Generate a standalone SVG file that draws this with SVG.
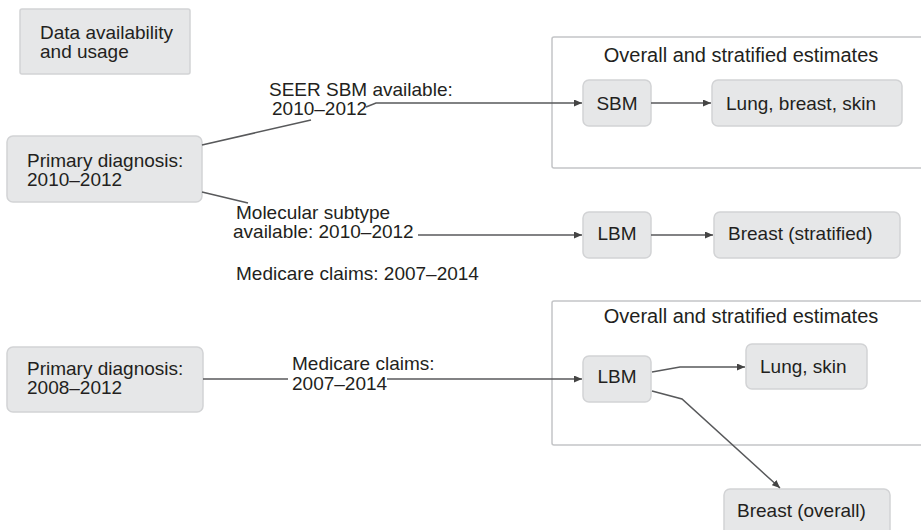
<svg xmlns="http://www.w3.org/2000/svg" width="921" height="530" viewBox="0 0 921 530">
<defs>
<style>
.t{font-family:"Liberation Sans",Arial,sans-serif;font-size:19px;fill:#231f20}
.tt{font-family:"Liberation Sans",Arial,sans-serif;font-size:20px;fill:#231f20}
.n{fill:#e6e7e8;stroke:#d2d3d5;stroke-width:1.5}
.c{fill:none;stroke:#c4c5c7;stroke-width:1.5}
.e{fill:none;stroke:#58595b;stroke-width:1.5}
</style>
<marker id="ah" viewBox="0 0 8 7" refX="8" refY="3.5" markerWidth="8" markerHeight="7" markerUnits="userSpaceOnUse" orient="auto">
<path d="M0,0 L8,3.5 L0,7 z" fill="#444"/>
</marker>
</defs>
<rect width="921" height="530" fill="#ffffff"/>

<g id="containers">
<rect id="cont1" class="c" x="552" y="37" width="380" height="131" rx="2"/>
<text class="tt" x="741" y="62" text-anchor="middle">Overall and stratified estimates</text>
<rect id="cont2" class="c" x="552" y="301" width="380" height="144" rx="2"/>
<text class="tt" x="741" y="323" text-anchor="middle">Overall and stratified estimates</text>
</g>

<g id="legend">
<rect class="n" x="20" y="9" width="170" height="65" rx="2"/>
<text class="t" x="40" y="39">Data availability</text>
<text class="t" x="40" y="58">and usage</text>
</g>

<g id="pd1">
<rect class="n" x="7" y="136" width="195" height="66" rx="6"/>
<text class="t" x="27" y="167">Primary diagnosis:</text>
<text class="t" x="27" y="186">2010–2012</text>
</g>

<g id="pd2">
<rect class="n" x="7" y="347" width="196" height="65" rx="6"/>
<text class="t" x="27" y="375">Primary diagnosis:</text>
<text class="t" x="27" y="394">2008–2012</text>
</g>

<g id="sbm">
<rect class="n" x="583" y="80" width="68" height="46" rx="6"/>
<text class="t" x="617" y="110" text-anchor="middle">SBM</text>
</g>
<g id="lbs">
<rect class="n" x="712" y="80" width="190" height="46" rx="6"/>
<text class="t" x="726" y="110">Lung, breast, skin</text>
</g>
<g id="lbm1">
<rect class="n" x="583" y="212" width="68" height="46" rx="6"/>
<text class="t" x="617" y="240" text-anchor="middle">LBM</text>
</g>
<g id="bstrat">
<rect class="n" x="714" y="212" width="186" height="46" rx="6"/>
<text class="t" x="728" y="240">Breast (stratified)</text>
</g>
<g id="lbm2">
<rect class="n" x="583" y="356" width="68" height="46" rx="6"/>
<text class="t" x="617" y="383" text-anchor="middle">LBM</text>
</g>
<g id="lskin">
<rect class="n" x="746" y="344" width="121" height="45" rx="6"/>
<text class="t" x="760" y="373">Lung, skin</text>
</g>
<g id="bover">
<rect class="n" x="724" y="489" width="166" height="50" rx="6"/>
<text class="t" x="737" y="517">Breast (overall)</text>
</g>

<g id="labels">
<text class="t" x="269" y="96">SEER SBM available:</text>
<text class="t" x="272" y="115">2010–2012</text>
<text class="t" x="236" y="219">Molecular subtype</text>
<text class="t" x="233" y="238">available: 2010–2012</text>
<text class="t" x="236" y="280">Medicare claims: 2007–2014</text>
<text class="t" x="292" y="370">Medicare claims:</text>
<text class="t" x="292" y="390">2007–2014</text>
</g>

<g id="connectors">
<path class="e" d="M202,145 L311,120"/>
<path class="e" d="M366,107 L376,103 L582,103" marker-end="url(#ah)"/>
<path class="e" d="M651,103 L711,103" marker-end="url(#ah)"/>
<path class="e" d="M202,192 L248,203"/>
<path class="e" d="M418,235 L582,235" marker-end="url(#ah)"/>
<path class="e" d="M651,235 L713,235" marker-end="url(#ah)"/>
<path class="e" d="M203,379 L288,379"/>
<path class="e" d="M387,379 L582,379" marker-end="url(#ah)"/>
<path class="e" d="M652,372 L680,367 L745,367" marker-end="url(#ah)"/>
<path class="e" d="M652,391 L682,399 L780,488" marker-end="url(#ah)"/>
</g>
</svg>
